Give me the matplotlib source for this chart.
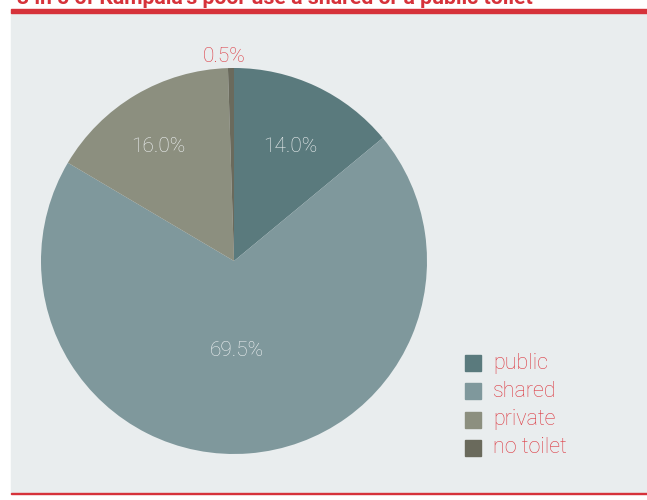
import matplotlib
matplotlib.use("Agg")
import matplotlib.pyplot as plt
from matplotlib.patches import Rectangle

labels = ["public", "shared", "private", "no toilet"]
shares = [14.0, 69.5, 16.0, 0.5]
colors = ["#5a7a7d", "#7f989c", "#8c8f7f", "#6a6a5c"]
title = "3 in 5 of Kampala's poor use a shared or a public toilet"

red = "#d6323a"
W, H = 647, 500

fig = plt.figure(figsize=(W / 100, H / 100), dpi=100)
fig.patch.set_facecolor("white")

# grey panel + red rules (figure pixel coords, y from top)
def px(x, y):
    return x / W, 1 - y / H

fig.patches.append(Rectangle(px(11, 493), (W - 11) / W, (493 - 12) / H,
                             transform=fig.transFigure, color="#e9edee", zorder=-10))
fig.patches.append(Rectangle(px(11, 12.5), (W - 11) / W, 3.5 / H,
                             transform=fig.transFigure, color=red, zorder=1))
fig.patches.append(Rectangle(px(11, 494), (W - 11) / W, 1.2 / H,
                             transform=fig.transFigure, color=red, zorder=1))

# title is clipped by the top edge in the original
fig.text(17 / W, 1 - 3.5 / H, title, color=red, fontsize=15.3, fontweight="bold",
         family=["Roboto", "DejaVu Sans"], va="baseline", ha="left")

# pie axes: centre (234, 261), radius 193
r = 193
ax = fig.add_axes([(234 - r) / W, 1 - (261 + r) / H, 2 * r / W, 2 * r / H])
ax.set_facecolor("none")
wedges, _ = ax.pie(shares, colors=colors, startangle=90, counterclock=False,
                   radius=1.0, wedgeprops=dict(linewidth=0))
ax.set_xlim(-1, 1)
ax.set_ylim(-1, 1)
ax.set_aspect("equal")
ax.axis("off")

lab_font = dict(family=["Roboto", "DejaVu Sans"], fontweight="light", fontsize=15)
label_pos = [(290, 147), (237, 350), (158, 147), (224, 57)]
label_col = ["#eef1f2", "#eef1f2", "#eef1f2", "#dc3a42"]
for v, (lx, ly), c in zip(shares, label_pos, label_col):
    fig.text(lx / W, 1 - ly / H, "%.1f%%" % v, color=c, ha="center", va="center", **lab_font)

# legend
for i, (name, c) in enumerate(zip(labels, colors)):
    y = 363 + i * 28.3
    fig.patches.append(Rectangle(px(465, y + 8), 16 / W, 16 / H,
                                 transform=fig.transFigure, color=c, zorder=2))
    fig.text(493 / W, 1 - y / H, name, color="#dc3a42", ha="left", va="center",
             family=["Roboto", "DejaVu Sans"], fontweight="light", fontsize=15.5)

fig.savefig("out.png", dpi=100)
